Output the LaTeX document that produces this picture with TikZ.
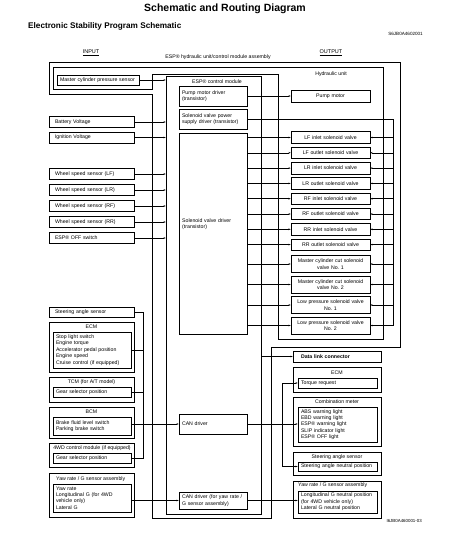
\documentclass[tikz,border=0pt]{standalone}
\usepackage{fontspec}
\setmainfont{Liberation Sans}
\usetikzlibrary{arrows.meta}
\newcommand\txtsize{\fontsize{5.2}{6.4}\selectfont}
\frenchspacing

\tikzset{
  frame/.style={draw, line width=0.6pt},
  box/.style={draw, line width=0.6pt, inner ysep=0pt, font=\txtsize},
  inbox/.style={box, text width=73pt, inner xsep=6pt, align=left, minimum height=11pt},
  drvbox/.style={box, text width=62pt, inner xsep=3pt, align=left},
  valvebox/.style={box, text width=75pt, inner xsep=2pt, align=center},
  grpbox/.style={draw, line width=0.6pt, inner sep=0pt},
  lsubbox/.style={box, text width=72pt, inner xsep=3pt, align=left},
  rsubbox/.style={box, text width=73pt, inner xsep=3pt, align=left},
  lbl/.style={font=\txtsize, inner sep=0pt},
  sig/.style={line width=0.6pt, -{Stealth[length=2.2pt,width=1.6pt]}},
  wire/.style={line width=0.6pt},
}

\begin{document}
\begin{tikzpicture}[x=1pt, y=-1pt]
    \useasboundingbox (0,0) rectangle (460,543);

    % Headings
    \node[font=\fontsize{10.5}{12}\selectfont\bfseries] (title) at (225,9) {Schematic and Routing Diagram};
    \node[font=\fontsize{8.2}{10}\selectfont\bfseries, anchor=west, inner sep=0pt] (subtitle) at (28,26) {Electronic Stability Program Schematic};
    \node[lbl, font=\fontsize{4.6}{5}\selectfont, anchor=east] (code) at (423,34) {S6JB0A4602001};
    \node[lbl, font=\fontsize{5.5}{6}\selectfont] (input) at (91,53) {\underline{INPUT}};
    \node[lbl, font=\fontsize{5.5}{6}\selectfont] (output) at (331,53) {\underline{OUTPUT}};
    \node[lbl] (asmlbl) at (218,57) {ESP® hydraulic unit/control module assembly};

    % Assembly and hydraulic unit outlines
    \draw[frame] (49,62) -- (400,62) -- (400,347) -- (271,347) -- (271,518) -- (152,518) -- (152,94) -- (49,94) -- cycle;
    \draw[frame] (53,67) -- (383,67) -- (383,339) -- (278,339) -- (278,74) -- (152,74) -- (152,89) -- (53,89) -- cycle;
    \node[lbl] (hulbl) at (331,74) {Hydraulic unit};

    % Control module
    \node[grpbox, minimum width=95pt, minimum height=438pt] (ecu) at (213.5,295) {};
    \node[lbl] (eculbl) at (217,82) {ESP® control module};
    \node[drvbox, minimum height=20pt] (pdrv) at (213,96) {Pump motor driver\\(transistor)};
    \node[drvbox, minimum height=20pt] (pwr) at (213,119) {Solenoid valve power\\supply driver (transistor)};
    \node[drvbox, minimum height=201pt] (vdrv) at (213,233.5) {};
    \node[lbl, anchor=west, text width=60pt, align=left] (vdrvlbl) at (182,224) {Solenoid valve driver\\(transistor)};
    \node[drvbox, minimum height=20pt] (candrv) at (213,424) {CAN driver};
    \node[drvbox, minimum height=17pt] (canyaw) at (213,500.5) {CAN driver (for yaw rate /\\G sensor assembly)};

    % Inputs
    \node[box, text width=76pt, inner xsep=3pt, align=left, minimum height=10pt] (mcps) at (98,80) {Master cylinder pressure sensor};
    \node[inbox] (bat) at (91.5,122) {Battery Voltage};
    \node[inbox] (ign) at (91.5,137.5) {Ignition Voltage};
    \node[inbox] (wlf) at (91.5,174) {Wheel speed sensor (LF)};
    \node[inbox] (wlr) at (91.5,190) {Wheel speed sensor (LR)};
    \node[inbox] (wrf) at (91.5,206) {Wheel speed sensor (RF)};
    \node[inbox] (wrr) at (91.5,222) {Wheel speed sensor (RR)};
    \node[inbox] (espoff) at (91.5,238) {ESP® OFF switch};
    \node[inbox, minimum height=10pt] (steerL) at (91.5,312) {Steering angle sensor};

    % Input modules on CAN
    \node[grpbox, minimum width=85pt, minimum height=50pt] (ecmL) at (91.5,347) {};
    \node[lbl] (ecmLlbl) at (91.5,327) {ECM};
    \node[lsubbox, minimum height=36pt] (ecmin) at (92,350) {Stop light switch\\Engine torque\\Accelerator pedal position\\Engine speed\\Cruise control (if equipped)};
    \node[grpbox, minimum width=85pt, minimum height=25pt] (tcm) at (91.5,389.5) {};
    \node[lbl] (tcmlbl) at (91.5,382) {TCM (for A/T model)};
    \node[lsubbox, minimum height=10pt] (tcmin) at (92,392) {Gear selector position};
    \node[grpbox, minimum width=85pt, minimum height=31pt] (bcm) at (91.5,422.5) {};
    \node[lbl] (bcmlbl) at (91.5,412) {BCM};
    \node[lsubbox, minimum height=18pt] (bcmin) at (92,426) {Brake fluid level switch\\Parking brake switch};
    \node[grpbox, minimum width=85pt, minimum height=24pt] (wd) at (91.5,455) {};
    \node[lbl] (wdlbl) at (92,448) {4WD control module (if equipped)};
    \node[lsubbox, minimum height=10pt] (wdin) at (92,458) {Gear selector position};
    \node[grpbox, minimum width=85pt, minimum height=44pt] (yawL) at (91.5,495) {};
    \node[lbl, anchor=west] (yawLlbl) at (56,479) {Yaw rate / G sensor assembly};
    \node[lsubbox, minimum height=28pt] (lyawin) at (92,498) {Yaw rate\\Longitudinal G (for 4WD\\vehicle only)\\Lateral G};

    % Outputs in hydraulic unit
    \node[valvebox, minimum height=12pt] (pump) at (330.5,96) {Pump motor};
    \node[valvebox, minimum height=11.5pt] (lfi) at (330.5,137.5) {LF inlet solenoid valve};
    \node[valvebox, minimum height=11.5pt] (lfo) at (330.5,152.8) {LF outlet solenoid valve};
    \node[valvebox, minimum height=11.5pt] (lri) at (330.5,168.1) {LR inlet solenoid valve};
    \node[valvebox, minimum height=11.5pt] (lro) at (330.5,183.4) {LR outlet solenoid valve};
    \node[valvebox, minimum height=11.5pt] (rfi) at (330.5,198.7) {RF inlet solenoid valve};
    \node[valvebox, minimum height=11.5pt] (rfo) at (330.5,214) {RF outlet solenoid valve};
    \node[valvebox, minimum height=11.5pt] (rri) at (330.5,229.3) {RR inlet solenoid valve};
    \node[valvebox, minimum height=11.5pt] (rro) at (330.5,244.6) {RR outlet solenoid valve};
    \node[valvebox, minimum height=17pt] (mc1) at (330.5,264) {Master cylinder cut solenoid\\valve No. 1};
    \node[valvebox, minimum height=17pt] (mc2) at (330.5,284.5) {Master cylinder cut solenoid\\valve No. 2};
    \node[valvebox, minimum height=17pt] (lp1) at (330.5,305) {Low pressure solenoid valve\\No. 1};
    \node[valvebox, minimum height=17pt] (lp2) at (330.5,325.5) {Low pressure solenoid valve\\No. 2};

    % Outputs on CAN
    \node[box, text width=72pt, inner xsep=8pt, align=left, minimum height=11pt, font=\txtsize\bfseries] (dlc) at (337,356.5) {Data link connector};
    \node[grpbox, minimum width=88pt, minimum height=25pt] (ecmR) at (337,379.5) {};
    \node[lbl] (ecmRlbl) at (337,373) {ECM};
    \node[rsubbox, minimum height=10pt] (torq) at (337.5,383) {Torque request};
    \node[grpbox, minimum width=88pt, minimum height=49pt] (comb) at (337,421.5) {};
    \node[lbl] (comblbl) at (337,402) {Combination meter};
    \node[rsubbox, minimum height=35pt] (combin) at (337.5,424.5) {ABS warning light\\EBD warning light\\ESP® warning light\\SLIP indicator light\\ESP® OFF light};
    \node[grpbox, minimum width=88pt, minimum height=23pt] (steerR) at (337,463.5) {};
    \node[lbl] (steerRlbl) at (337,457) {Steering angle sensor};
    \node[rsubbox, minimum height=9pt] (sneut) at (337.5,466.5) {Steering angle neutral position};
    \node[grpbox, minimum width=88pt, minimum height=37pt] (yawR) at (337,499.5) {};
    \node[lbl, anchor=west] (yawRlbl) at (298,485) {Yaw rate / G sensor assembly};
    \node[rsubbox, minimum height=22pt] (ryawin) at (337.5,502) {Longitudinal G neutral position\\(for 4WD vehicle only)\\Lateral G neutral position};

    \node[lbl, font=\fontsize{4.4}{5}\selectfont, anchor=east] (fig) at (422,521) {I6JB0A460001-03};

    % Signals into control module
    \draw[sig] (mcps.east) -- (mcps.east -| ecu.west);
    \foreach \n in {bat,ign,wlf,wlr,wrf,wrr,espoff}
        \draw[sig] (\n.east) -- (\n.east -| ecu.west);

    % Drivers to actuators
    \draw[sig] (pdrv.east) -- (pump.west);
    \foreach \v in {lfi,lfo,lri,lro,rfi,rfo,rri,rro,mc1,mc2,lp1,lp2}
        \draw[sig] (vdrv.east |- \v.west) -- (\v.west);

    % Solenoid power supply
    \coordinate (pbus) at (393,325.5);
    \draw[wire] (pwr.east) -| (pbus);
    \foreach \v in {lfi,lfo,lri,lro,rfi,rfo,rri,rro,mc1,mc2,lp1,lp2}
        \draw[sig] (pbus |- \v.east) -- (\v.east);

    % CAN inputs
    \coordinate (lbus) at (143,312);
    \draw[wire] (steerL.east) -| (lbus |- wdin.east) -- (wdin.east);
    \foreach \n in {ecmin,tcmin}
        \draw[wire] (\n.east) -- (lbus |- \n.east);
    \draw[sig] (bcmin.east |- candrv.west) -- (candrv.west);

    % CAN outputs
    \coordinate (rbus) at (282,383);
    \draw[sig] (candrv.east) -- (candrv.east -| combin.west);
    \draw[wire] (rbus |- torq.west) -- (rbus |- sneut.west);
    \draw[sig] (rbus |- torq.west) -- (torq.west);
    \draw[sig] (rbus |- sneut.west) -- (sneut.west);
    \draw[sig] (ecu.east |- dlc.west) -- (dlc.west);

    % Yaw rate sensor link
    \draw[sig] (lyawin.east |- canyaw.west) -- (canyaw.west);
    \draw[sig] (canyaw.east) -- (canyaw.east -| ryawin.west);
\end{tikzpicture}
\end{document}
